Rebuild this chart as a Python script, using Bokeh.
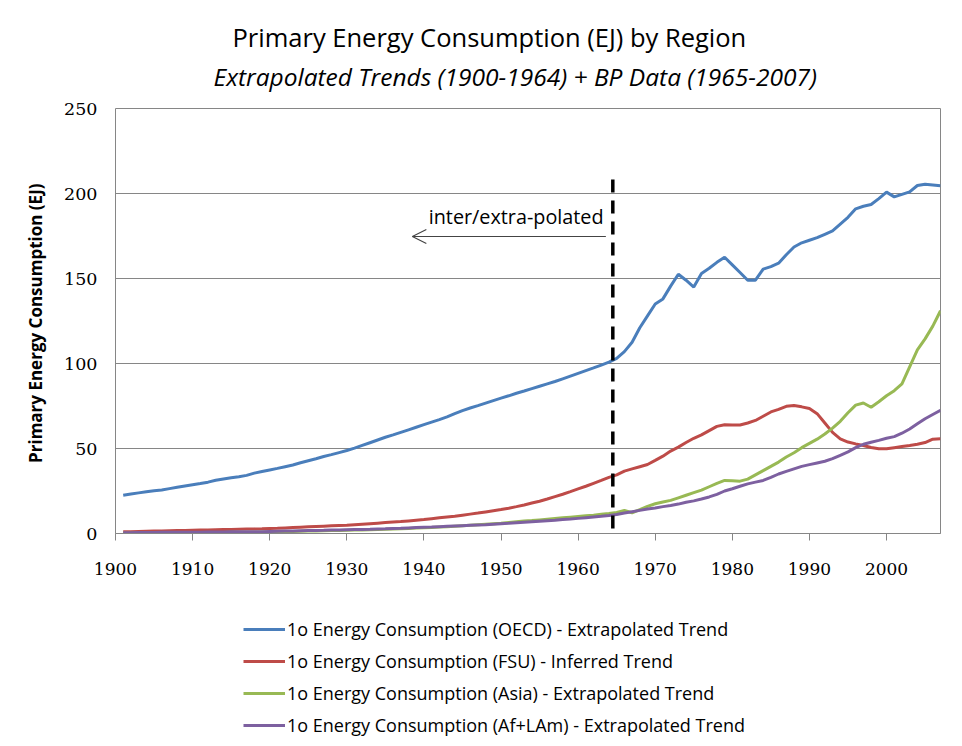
from bokeh.plotting import figure
from bokeh.layouts import column
from bokeh.models import Range1d, FixedTicker, Legend, LegendItem, Arrow, OpenHead, Title
from bokeh.core.properties import value
from bokeh.embed import file_html
from bokeh.resources import INLINE

# ---------------- data ----------------
years = list(range(1901, 2008))

oecd = [
    22.5, 23.2, 23.9, 24.6, 25.2, 25.6, 26.4, 27.2, 28.0, 28.7,   # 1901-1910
    29.4, 30.2, 31.3, 32.1, 32.8, 33.4, 34.2, 35.5, 36.5, 37.4,   # 1911-1920
    38.3, 39.3, 40.3, 41.6, 42.8, 44.0, 45.3, 46.4, 47.6, 48.8,   # 1921-1930
    50.2, 51.8, 53.4, 55.0, 56.6, 58.0, 59.5, 61.0, 62.5, 64.0,   # 1931-1940
    65.5, 67.0, 68.6, 70.5, 72.3, 73.8, 75.2, 76.7, 78.2, 79.6,   # 1941-1950
    81.0, 82.5, 83.8, 85.2, 86.6, 88.0, 89.4, 91.0, 92.6, 94.2,   # 1951-1960
    95.8, 97.4, 99.1, 100.8, 103.0, 107.0, 112.5, 121.0, 128.0, 135.0,   # 1961-1970
    138.0, 145.5, 152.5, 149.0, 145.0, 153.0, 156.0, 159.5, 162.5, 158.0,  # 1971-1980
    153.5, 149.0, 149.0, 155.5, 157.0, 159.0, 164.0, 168.5, 171.0, 172.5,  # 1981-1990
    174.0, 176.0, 178.0, 182.0, 186.0, 191.0, 192.5, 193.5, 197.0, 200.8,  # 1991-2000
    198.0, 199.5, 201.0, 204.7, 205.5, 205.0, 204.5,                       # 2001-2007
]

fsu = [
    1.0, 1.1, 1.2, 1.3, 1.4, 1.5, 1.6, 1.7, 1.8, 1.9,            # 1901-1910
    2.0, 2.1, 2.2, 2.3, 2.4, 2.5, 2.6, 2.7, 2.8, 3.0,            # 1911-1920
    3.1, 3.3, 3.5, 3.7, 3.9, 4.1, 4.3, 4.5, 4.7, 4.9,            # 1921-1930
    5.2, 5.5, 5.8, 6.1, 6.4, 6.7, 7.0, 7.4, 7.8, 8.2,            # 1931-1940
    8.7, 9.2, 9.7, 10.2, 10.8, 11.4, 12.0, 12.7, 13.4, 14.1,     # 1941-1950
    14.9, 15.8, 16.8, 17.9, 19.0, 20.3, 21.7, 23.1, 24.6, 26.2,  # 1951-1960
    27.8, 29.5, 31.2, 33.0, 34.5, 36.7, 38.0, 39.3, 40.6, 43.0,  # 1961-1970
    45.5, 48.5, 50.8, 53.5, 56.0, 58.0, 60.5, 63.0, 64.0, 63.8,  # 1971-1980
    63.8, 65.0, 66.5, 69.0, 71.5, 73.0, 74.8, 75.3, 74.5, 73.5,  # 1981-1990
    70.5, 65.0, 59.5, 55.7, 53.8, 52.7, 51.8, 50.6, 49.8, 49.8,  # 1991-2000
    50.5, 51.2, 51.8, 52.5, 53.5, 55.5, 55.7,                    # 2001-2007
]

asia = [
    0.2, 0.2, 0.3, 0.3, 0.3, 0.4, 0.4, 0.4, 0.5, 0.5,            # 1901-1910
    0.5, 0.6, 0.6, 0.6, 0.7, 0.7, 0.8, 0.8, 0.9, 0.9,            # 1911-1920
    1.0, 1.1, 1.2, 1.3, 1.4, 1.5, 1.6, 1.7, 1.8, 1.9,            # 1921-1930
    2.0, 2.1, 2.2, 2.4, 2.5, 2.7, 2.8, 3.0, 3.2, 3.4,            # 1931-1940
    3.6, 3.8, 4.0, 4.3, 4.6, 4.9, 5.2, 5.5, 5.8, 6.1,            # 1941-1950
    6.5, 6.9, 7.3, 7.6, 8.0, 8.4, 8.8, 9.2, 9.6, 10.0,           # 1951-1960
    10.4, 10.8, 11.3, 11.8, 12.4, 13.5, 12.2, 14.0, 16.0, 17.5,  # 1961-1970
    18.5, 19.5, 21.0, 22.5, 24.0, 25.5, 27.5, 29.5, 31.2, 31.0,  # 1971-1980
    30.8, 32.0, 34.5, 37.0, 39.5, 42.0, 45.0, 47.5, 50.5, 53.0,  # 1981-1990
    55.5, 58.5, 62.0, 66.0, 71.0, 75.5, 76.8, 74.3, 77.5, 81.0,  # 1991-2000
    84.0, 88.0, 98.0, 108.0, 114.5, 122.0, 131.0,                # 2001-2007
]

af_lam = [
    0.5, 0.5, 0.6, 0.6, 0.6, 0.7, 0.7, 0.7, 0.8, 0.8,            # 1901-1910
    0.8, 0.9, 0.9, 0.9, 1.0, 1.0, 1.0, 1.1, 1.1, 1.2,            # 1911-1920
    1.3, 1.4, 1.5, 1.6, 1.7, 1.8, 1.9, 2.0, 2.1, 2.2,            # 1921-1930
    2.3, 2.4, 2.5, 2.7, 2.8, 3.0, 3.1, 3.3, 3.5, 3.7,            # 1931-1940
    3.8, 4.0, 4.2, 4.4, 4.6, 4.8, 5.0, 5.2, 5.5, 5.8,            # 1941-1950
    6.0, 6.3, 6.6, 6.9, 7.2, 7.5, 7.8, 8.2, 8.5, 8.9,            # 1951-1960
    9.3, 9.7, 10.1, 10.6, 11.2, 12.0, 12.8, 13.6, 14.4, 15.0,    # 1961-1970
    15.8, 16.5, 17.3, 18.4, 19.2, 20.3, 21.5, 23.0, 25.0, 26.3,  # 1971-1980
    27.8, 29.2, 30.2, 31.2, 33.0, 35.0, 36.5, 38.0, 39.5, 40.5,  # 1981-1990
    41.5, 42.5, 44.0, 46.0, 48.0, 50.5, 52.5, 53.7, 54.8, 56.0,  # 1991-2000
    57.0, 59.0, 61.5, 64.5, 67.5, 70.0, 72.4,                    # 2001-2007
]

series_labels = [
    "1o Energy Consumption (OECD) - Extrapolated Trend",
    "1o Energy Consumption (FSU) - Inferred Trend",
    "1o Energy Consumption (Asia) - Extrapolated Trend",
    "1o Energy Consumption (Af+LAm) - Extrapolated Trend",
]
series_colors = ["#4A7EBB", "#BE4B48", "#98B954", "#7D60A0"]

x_ticks = [1900, 1910, 1920, 1930, 1940, 1950, 1960, 1970, 1980, 1990, 2000]
y_ticks = [0, 50, 100, 150, 200, 250]

divider_year = 1964.5
divider_span = [3, 210]
arrow_years = [1963.6, 1938.5]
arrow_level = 174.7
note_year = 1963.3
note_level = 186.5
note_text = "inter/extra-polated"

title_text = "Primary Energy Consumption  (EJ) by Region"
subtitle_text = "Extrapolated Trends (1900-1964) + BP Data (1965-2007)"

# ---------------- main figure ----------------
GRID = "#868686"
SANS = "Open Sans"
SERIF = "DejaVu Serif"
W = 954

p = figure(width=W, height=583,
           x_range=Range1d(1900, 2007), y_range=Range1d(0, 250),
           output_backend="svg", toolbar_location=None,
           min_border_left=115, min_border_right=14,
           min_border_top=108, min_border_bottom=50)
p.title = None

p.background_fill_color = "white"
p.border_fill_color = "white"
p.outline_line_color = GRID
p.outline_line_width = 1

p.xgrid.visible = False
p.ygrid.grid_line_color = GRID
p.ygrid.grid_line_width = 1

p.xaxis.ticker = FixedTicker(ticks=x_ticks)
p.xaxis.axis_line_color = GRID
p.xaxis.major_tick_line_color = GRID
p.xaxis.major_tick_out = 7
p.xaxis.major_tick_in = 0
p.xaxis.minor_tick_line_color = None
p.xaxis.major_label_text_font = SERIF
p.xaxis.major_label_text_font_size = "17px"
p.xaxis.major_label_text_color = "black"
p.xaxis.major_label_standoff = 22

p.yaxis.ticker = FixedTicker(ticks=y_ticks)
p.yaxis.axis_line_color = None
p.yaxis.major_tick_line_color = None
p.yaxis.major_tick_out = 0
p.yaxis.major_tick_in = 0
p.yaxis.minor_tick_line_color = None
p.yaxis.major_label_text_font = SERIF
p.yaxis.major_label_text_font_size = "17.5px"
p.yaxis.major_label_text_color = "black"
p.yaxis.major_label_standoff = 18
p.yaxis.axis_label = "Primary Energy Consumption  (EJ)"
p.yaxis.axis_label_text_font = SANS
p.yaxis.axis_label_text_font_style = "bold"
p.yaxis.axis_label_text_font_size = "17px"
p.yaxis.axis_label_text_color = "black"
p.yaxis.axis_label_standoff = 14

series = [oecd, fsu, asia, af_lam]
for vals, col in zip(series, series_colors):
    p.line(years, vals, line_color=col, line_width=3)

# divider and note
p.line([divider_year, divider_year], divider_span, line_color="black",
       line_width=3.5, line_dash="13 8")
p.add_layout(Arrow(end=OpenHead(size=14, line_width=1.2, line_color="#444444"),
                   x_start=arrow_years[0], y_start=arrow_level,
                   x_end=arrow_years[1], y_end=arrow_level,
                   line_color="#444444", line_width=1.2))
p.text(x=[note_year], y=[note_level], text=[note_text], text_align="right",
       text_baseline="middle", text_font=value(SANS), text_font_size="19.8px",
       text_color="black")

# titles: the first one added sits closest to the plot frame
p.add_layout(Title(text=subtitle_text, align="left", offset=98, text_font=SANS,
                   text_font_style="italic", text_font_size="24.5px",
                   text_color="black", standoff=32), "above")
p.add_layout(Title(text=title_text, align="left", offset=117, text_font=SANS,
                   text_font_style="normal", text_font_size="25.5px",
                   text_color="black", standoff=-24), "above")

# ---------------- legend strip (its own small figure below the chart) ----------------
# the strip's view window is far away from the data, so only the legend swatches show
lg = figure(width=W, height=161, x_range=Range1d(0, 1), y_range=Range1d(0, 1),
            output_backend="svg", toolbar_location=None,
            x_axis_type=None, y_axis_type=None, min_border=0)
lg.title = None
lg.grid.visible = False
lg.outline_line_color = None
lg.background_fill_color = "white"
lg.border_fill_color = "white"

swatches = [lg.line(years, vals, line_color=col, line_width=3)
            for vals, col in zip(series, series_colors)]
legend = Legend(items=[LegendItem(label=lab, renderers=[r]) for lab, r in zip(series_labels, swatches)],
                location=(128, 7), orientation="vertical",
                padding=0, margin=0, spacing=8, label_height=22, glyph_height=22,
                glyph_width=42, label_standoff=2,
                border_line_alpha=0, background_fill_alpha=0,
                label_text_font=SANS, label_text_font_size="18px", label_text_color="black")
lg.add_layout(legend, "center")

page = column(p, lg, spacing=0)
open("out.html", "w").write(file_html(page, INLINE))
